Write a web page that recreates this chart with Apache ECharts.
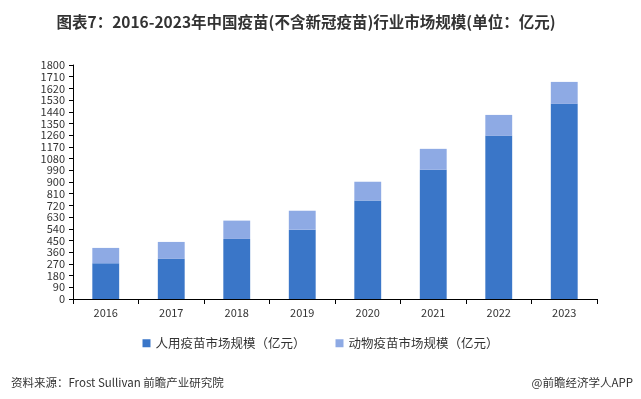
<!DOCTYPE html>
<html>
<head>
<meta charset="utf-8">
<script src="https://cdn.jsdelivr.net/npm/echarts@6/dist/echarts.min.js"></script>
<style>
  html, body { margin: 0; padding: 0; background: #fff; }
  #chart { width: 641px; height: 399px; }
</style>
</head>
<body>
<div id="chart"></div>
<script>
const years = ['2016', '2017', '2018', '2019', '2020', '2021', '2022', '2023']
const humanVaccine = [275, 309, 462, 533, 758, 994, 1255, 1501]
const animalVaccine = [118, 130, 141, 146, 144, 161, 161, 169]
const yMin = 0
const yMax = 1800
const yStep = 90

const font = '"Noto Sans CJK SC", "Noto Sans", sans-serif'

const chart = echarts.init(document.getElementById('chart'))
const options = {
  animation: false,
  color: ['#3a76c8', '#8eaae4'],
  title: [
    {
      text: '图表7：2016-2023年中国疫苗(不含新冠疫苗)行业市场规模(单位：亿元)',
      left: 301,
      top: 9,
      textAlign: 'center',
      textStyle: { fontFamily: font, fontSize: 15.5, fontWeight: 'bold', color: '#333' },
    },
    {
      text: '资料来源：Frost Sullivan 前瞻产业研究院',
      left: 6,
      top: 372,
      textStyle: { fontFamily: font, fontSize: 11.5, fontWeight: 'normal', color: '#333' },
    },
    {
      text: '@前瞻经济学人APP',
      right: 3,
      top: 372,
      textStyle: { fontFamily: font, fontSize: 11.5, fontWeight: 'normal', color: '#333' },
    },
  ],
  legend: {
    top: 332,
    left: 'center',
    itemWidth: 8,
    itemHeight: 8,
    itemGap: 30,
    icon: 'rect',
    textStyle: { fontFamily: font, fontSize: 12.5, color: '#333' },
    data: ['人用疫苗市场规模（亿元）', '动物疫苗市场规模（亿元）'],
  },
  grid: {
    left: 73,
    right: 44,
    top: 65,
    bottom: 100,
    containLabel: false,
  },
  xAxis: {
    type: 'category',
    data: years,
    axisLine: { lineStyle: { color: '#000', width: 1 } },
    axisTick: { show: true, length: 5, lineStyle: { color: '#000' } },
    axisLabel: { fontFamily: font, fontSize: 11, color: '#333', margin: 8 },
  },
  yAxis: {
    type: 'value',
    min: yMin,
    max: yMax,
    interval: yStep,
    axisLine: { show: true, lineStyle: { color: '#000', width: 1 } },
    axisTick: { show: true, length: 4, lineStyle: { color: '#000' } },
    splitLine: { show: false },
    axisLabel: {
      fontFamily: font,
      fontSize: 11,
      color: '#333',
      margin: 8,
      formatter: (v) => String(v), // no thousands separator
    },
  },
  series: [
    {
      name: '人用疫苗市场规模（亿元）',
      type: 'bar',
      stack: 'total',
      barWidth: '41%',
      data: humanVaccine,
    },
    {
      name: '动物疫苗市场规模（亿元）',
      type: 'bar',
      stack: 'total',
      barWidth: '41%',
      data: animalVaccine,
    },
  ],
}
chart.setOption(options, true)
</script>
</body>
</html>
